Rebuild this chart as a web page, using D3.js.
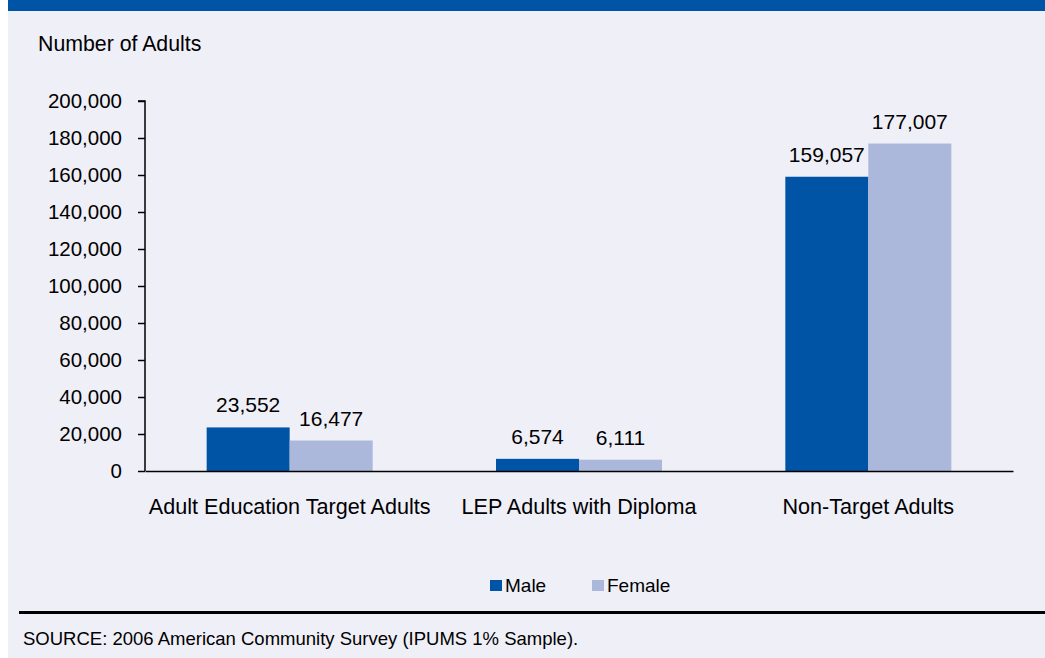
<!DOCTYPE html>
<html>
<head>
<meta charset="utf-8">
<script src="https://cdn.jsdelivr.net/npm/d3@7"></script>
<style>
  html, body { margin: 0; padding: 0; background: #ffffff; }
  svg { display: block; font-family: Arial, "Liberation Sans", sans-serif; }
</style>
</head>
<body>
<svg id="chart" width="1045" height="658"></svg>
<script>
// Adult population by group and sex
const categories = ["Adult Education Target Adults", "LEP Adults with Diploma", "Non-Target Adults"];
const seriesNames = ["Male", "Female"];
const maleValues = [23552, 6574, 159057];
const femaleValues = [16477, 6111, 177007];
const yTicks = [0, 20000, 40000, 60000, 80000, 100000, 120000, 140000, 160000, 180000, 200000];
const seriesColors = ["#0054a6", "#abb8dc"];

const svg = d3.select("#chart");
const W = 1045, H = 658;

// panel background and top band
svg.append("rect").attr("x", 8).attr("y", 0).attr("width", W - 8).attr("height", H).attr("fill", "#efeff8");
svg.append("rect").attr("x", 8).attr("y", 0).attr("width", W - 8).attr("height", 11).attr("fill", "#0054a6");

const plot = { left: 145, right: 1013, top: 101, bottom: 471 };

const x0 = d3.scaleBand().domain(categories).range([plot.left, plot.right]).padding(0);
const barW = 83;
const x1 = d3.scaleBand().domain(seriesNames).range([0, barW * 2]).padding(0);
const y = d3.scaleLinear().domain([0, 200000]).range([plot.bottom, plot.top]);

const rows = categories.map((c, i) => ({ cat: c, vals: [maleValues[i], femaleValues[i]] }));

// y axis
const yAxis = svg.append("g")
  .attr("transform", `translate(${plot.left},0)`)
  .call(d3.axisLeft(y).tickValues(yTicks).tickSize(7).tickPadding(16).tickFormat(d3.format(",")));
yAxis.selectAll("text").attr("font-size", 20.5).attr("fill", "#000").attr("font-family", "Arial, 'Liberation Sans', sans-serif");
yAxis.selectAll("line").attr("stroke", "#000").attr("stroke-width", 1.5);
yAxis.select(".domain").attr("stroke", "#000").attr("stroke-width", 1.5).attr("d", `M-7,${plot.top}H0V${plot.bottom}`);

// bars
const groups = svg.append("g").selectAll("g").data(rows).join("g")
  .attr("transform", d => `translate(${x0(d.cat) + x0.bandwidth() / 2 - barW},0)`);

groups.selectAll("rect").data(d => d.vals.map((v, j) => ({ v, s: seriesNames[j], j }))).join("rect")
  .attr("x", d => x1(d.s))
  .attr("width", x1.bandwidth())
  .attr("y", d => y(d.v))
  .attr("height", d => y(0) - y(d.v))
  .attr("fill", d => seriesColors[d.j]);

groups.selectAll("text").data(d => d.vals.map((v, j) => ({ v, s: seriesNames[j] }))).join("text")
  .attr("x", d => x1(d.s) + x1.bandwidth() / 2)
  .attr("y", d => y(d.v) - 15)
  .attr("text-anchor", "middle")
  .attr("font-size", 21)
  .attr("fill", "#000")
  .text(d => d3.format(",")(d.v));

// x axis
const xAxis = svg.append("g")
  .attr("transform", `translate(0,${plot.bottom})`)
  .call(d3.axisBottom(x0).tickSize(0).tickPadding(24));
xAxis.selectAll("text").attr("font-size", 21.6).attr("fill", "#000").attr("dy", 0).attr("y", 43)
  .attr("font-family", "Arial, 'Liberation Sans', sans-serif");
xAxis.select(".domain").attr("stroke", "#000").attr("stroke-width", 1.5);

// axis title
svg.append("text").attr("x", 38).attr("y", 51).attr("font-size", 21.3).attr("fill", "#000").text("Number of Adults");

// legend
const legendX = [490, 592];
const legend = svg.append("g").selectAll("g").data(seriesNames).join("g")
  .attr("transform", (d, i) => `translate(${legendX[i]},580)`);
legend.append("rect").attr("width", 12).attr("height", 11).attr("fill", (d, i) => seriesColors[i]);
legend.append("text").attr("x", 15).attr("y", 12).attr("font-size", 19).attr("fill", "#000").text(d => d);

// footer rule and source
svg.append("line").attr("x1", 19).attr("x2", W).attr("y1", 612.5).attr("y2", 612.5).attr("stroke", "#000").attr("stroke-width", 3);
svg.append("text").attr("x", 23).attr("y", 645).attr("font-size", 18.5).attr("fill", "#000")
  .text("SOURCE: 2006 American Community Survey (IPUMS 1% Sample).");
</script>
</body>
</html>
